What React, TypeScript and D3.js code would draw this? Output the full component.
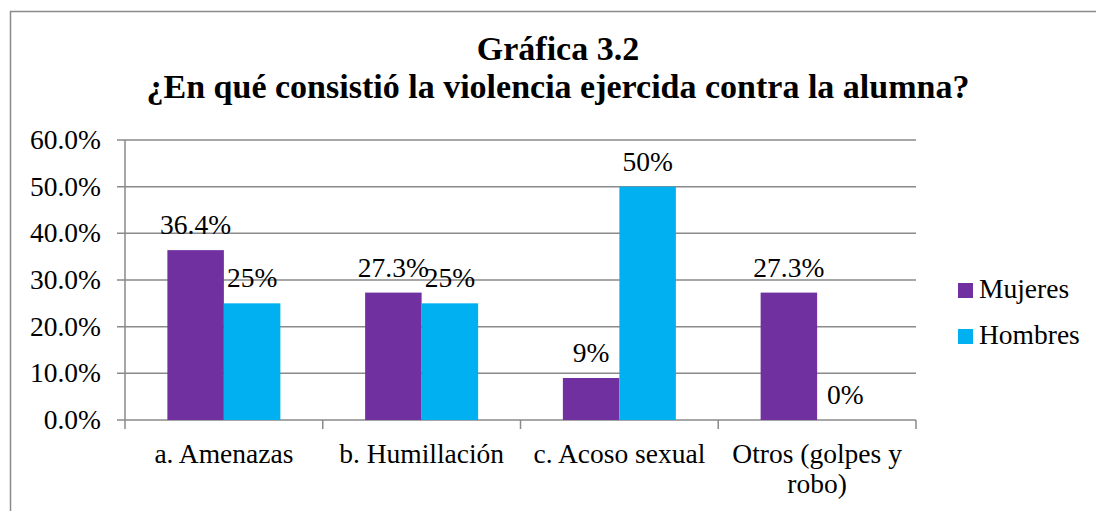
import React from "react";
import { scaleBand, scaleLinear } from "d3";

const categories = ["a. Amenazas", "b. Humillación", "c. Acoso sexual", "Otros (golpes y|robo)"];
const series = ["Mujeres", "Hombres"];
const mujeres = [36.4, 27.3, 9, 27.3];
const hombres = [25, 25, 50, 0];
const labelsMujeres = ["36.4%", "27.3%", "9%", "27.3%"];
const labelsHombres = ["25%", "25%", "50%", "0%"];
const yTicks = [0, 10, 20, 30, 40, 50, 60];
const colors = ["#7030A0", "#00B0F0"];

const FONT = "'Liberation Serif', 'DejaVu Serif', serif";
const GRID = "#8a8a8a";
const FS = 27.5;

const App = () => {
  const W = 1096;
  const H = 511;
  // plot area
  const left = 125;
  const right = 916;
  const top = 140;
  const bottom = 420;

  const x = scaleBand().domain(categories).range([left, right]).padding(0);
  const xs = scaleBand()
    .domain(series)
    .range([0, x.bandwidth()])
    .paddingInner(0)
    .paddingOuter(0.75);
  const y = scaleLinear().domain([0, 60]).range([bottom, top]);

  const values = [mujeres, hombres];
  const labels = [labelsMujeres, labelsHombres];

  return (
    <svg width={W} height={H} style={{ display: "block", position: "absolute", left: 0, top: 0 }}>
      <rect x={0} y={0} width={W} height={H} fill="#fff" />
      {/* chart border (right and bottom edges fall outside the picture) */}
      <rect x={10.5} y={11.5} width={1100} height={520} fill="none" stroke={GRID} strokeWidth={1.5} />

      {/* title */}
      <g fontFamily={FONT} fontWeight="bold" fontSize={34} textAnchor="middle" fill="#000">
        <text x={558} y={60}>Gráfica 3.2</text>
        <text x={558} y={98}>¿En qué consistió la violencia ejercida contra la alumna?</text>
      </g>

      {/* gridlines and y ticks */}
      {yTicks.map((t) => (
        <g key={t}>
          <line x1={117} x2={right} y1={y(t)} y2={y(t)} stroke={GRID} strokeWidth={1.5} />
          <text
            x={101}
            y={y(t) + 9}
            textAnchor="end"
            fontFamily={FONT}
            fontSize={FS}
            fill="#000"
          >
            {t.toFixed(1)}%
          </text>
        </g>
      ))}
      {/* y axis line */}
      <line x1={left} x2={left} y1={top} y2={bottom} stroke={GRID} strokeWidth={1.5} />
      {/* x axis ticks */}
      {[...categories.map((c) => x(c)!), right].map((px, i) => (
        <line key={i} x1={px} x2={px} y1={bottom} y2={429} stroke={GRID} strokeWidth={1.5} />
      ))}

      {/* bars */}
      {series.map((s, si) =>
        categories.map((c, ci) => {
          const bx = x(c)! + xs(s)!;
          const v = values[si][ci];
          return (
            <rect
              key={s + c}
              x={bx}
              y={y(v)}
              width={xs.bandwidth()}
              height={bottom - y(v)}
              fill={colors[si]}
            />
          );
        })
      )}

      {/* data labels */}
      {series.map((s, si) =>
        categories.map((c, ci) => {
          const bx = x(c)! + xs(s)! + xs.bandwidth() / 2;
          const v = values[si][ci];
          return (
            <text
              key={"l" + s + c}
              x={bx}
              y={y(v) - 16}
              textAnchor="middle"
              fontFamily={FONT}
              fontSize={FS}
              fill="#000"
            >
              {labels[si][ci]}
            </text>
          );
        })
      )}

      {/* category labels */}
      {categories.map((c) => (
        <text
          key={"c" + c}
          x={x(c)! + x.bandwidth() / 2}
          y={463}
          textAnchor="middle"
          fontFamily={FONT}
          fontSize={FS}
          fill="#000"
        >
          {c.split("|").map((ln, i) => (
            <tspan key={i} x={x(c)! + x.bandwidth() / 2} dy={i === 0 ? 0 : 30}>
              {ln}
            </tspan>
          ))}
        </text>
      ))}

      {/* legend */}
      {series.map((s, si) => (
        <g key={"lg" + s} transform={`translate(958, ${283 + si * 46})`}>
          <rect x={0} y={0} width={15} height={15} fill={colors[si]} />
          <text x={21} y={15} fontFamily={FONT} fontSize={FS} fill="#000">
            {s}
          </text>
        </g>
      ))}
    </svg>
  );
};

export default App;
